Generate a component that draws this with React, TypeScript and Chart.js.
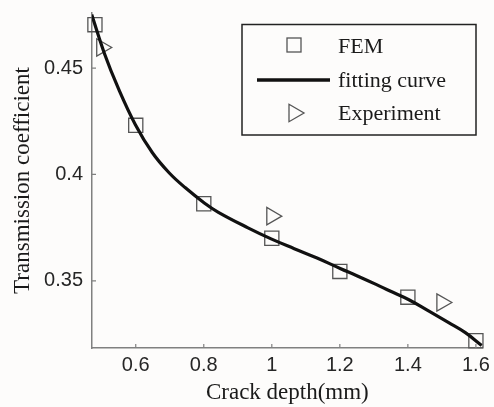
import React, { useEffect, useRef } from "react";
import { Chart, registerables } from "chart.js";

Chart.register(...registerables);

const femX = [0.48, 0.6, 0.8, 1.0, 1.2, 1.4, 1.6];
const femY = [0.4704, 0.4231, 0.3862, 0.37, 0.3544, 0.3423, 0.3218];

const expX = [0.5, 1.0, 1.5];
const expY = [0.4597, 0.3804, 0.3398];

const fitX = [0.4705, 0.509, 0.548, 0.599, 0.649, 0.698, 0.746, 0.8015, 0.843, 0.93, 0.998, 1.066, 1.133, 1.201, 1.25, 1.308, 1.346, 1.403, 1.462, 1.52, 1.569, 1.617];
const fitY = [0.4752, 0.4564, 0.4408, 0.4234, 0.4102, 0.4008, 0.3937, 0.3866, 0.3822, 0.3749, 0.3697, 0.3651, 0.3607, 0.3558, 0.3524, 0.3482, 0.3453, 0.3411, 0.3357, 0.3303, 0.3256, 0.3196];

const xTicks = [0.6, 0.8, 1.0, 1.2, 1.4, 1.6];
const xTickLabels = ["0.6", "0.8", "1", "1.2", "1.4", "1.6"];
const yTicks = [0.35, 0.4, 0.45];
const yTickLabels = ["0.35", "0.4", "0.45"];

const labels = ["FEM", "fitting curve", "Experiment"];
const xTitle = "Crack depth(mm)";
const yTitle = "Transmission coefficient";

const AXIS = "#808080";
const MARK = "#555555";
const TXT = "#262626";
const SERIF = "'Liberation Serif', 'Times New Roman', serif";
const SANS = "'Liberation Sans', Arial, sans-serif";

const bgPlugin = {
  id: "bg",
  beforeDraw(chart: any) {
    const { ctx, width, height } = chart;
    ctx.save();
    ctx.fillStyle = "#fdfcfb";
    ctx.fillRect(0, 0, width, height);
    ctx.restore();
  },
};

const tickPlugin = {
  id: "inTicks",
  afterDraw(chart: any) {
    const { ctx, chartArea } = chart;
    const xs = chart.scales.x;
    const ys = chart.scales.y;
    ctx.save();
    ctx.strokeStyle = AXIS;
    ctx.lineWidth = 1.2;
    ctx.beginPath();
    xTicks.forEach((v) => {
      const px = xs.getPixelForValue(v);
      ctx.moveTo(px, chartArea.bottom);
      ctx.lineTo(px, chartArea.bottom - 4);
    });
    yTicks.forEach((v) => {
      const py = ys.getPixelForValue(v);
      ctx.moveTo(chartArea.left, py);
      ctx.lineTo(chartArea.left + 4, py);
    });
    ctx.stroke();
    ctx.fillStyle = TXT;
    ctx.font = `20px ${SANS}`;
    ctx.textAlign = "center";
    ctx.textBaseline = "middle";
    xTicks.forEach((v, i) => {
      ctx.fillText(xTickLabels[i], xs.getPixelForValue(v), chartArea.bottom + 17);
    });
    ctx.restore();
  },
};

const legendPlugin = {
  id: "boxLegend",
  afterDraw(chart: any) {
    const { ctx } = chart;
    const x0 = 242, y0 = 24.5, w = 234, h = 110.5;
    ctx.save();
    ctx.fillStyle = "#fdfcfb";
    ctx.fillRect(x0, y0, w, h);
    ctx.strokeStyle = "#222";
    ctx.lineWidth = 1.5;
    ctx.strokeRect(x0, y0, w, h);
    const symX = 294;
    const textX = 338;
    const rows = [47, 81, 114];
    ctx.strokeStyle = MARK;
    ctx.lineWidth = 1.3;
    ctx.strokeRect(symX - 7, rows[0] - 2 - 7, 14, 14);
    ctx.strokeStyle = "#111";
    ctx.lineWidth = 3.5;
    ctx.beginPath();
    ctx.moveTo(257, rows[1] - 1);
    ctx.lineTo(330, rows[1] - 1);
    ctx.stroke();
    ctx.strokeStyle = MARK;
    ctx.lineWidth = 1.3;
    ctx.beginPath();
    const ty = rows[2] - 1;
    ctx.moveTo(symX - 5, ty - 8.7);
    ctx.lineTo(symX + 10, ty);
    ctx.lineTo(symX - 5, ty + 8.7);
    ctx.closePath();
    ctx.stroke();
    ctx.fillStyle = "#1a1a1a";
    ctx.font = `22px ${SERIF}`;
    ctx.textBaseline = "middle";
    ctx.textAlign = "left";
    labels.forEach((t, i) => ctx.fillText(t, textX, rows[i]));
    ctx.restore();
  },
};

export default function App() {
  const ref = useRef<HTMLCanvasElement>(null);
  useEffect(() => {
    document.body.style.margin = "0";
    const canvas = ref.current!;
    const chart = new Chart(canvas, {
      type: "scatter",
      data: {
        datasets: [
          {
            label: labels[1],
            data: fitX.map((x, i) => ({ x, y: fitY[i] })),
            showLine: true,
            borderColor: "#111",
            borderWidth: 3.2,
            pointRadius: 0,
            tension: 0.4,
            order: 0,
          } as any,
          {
            label: labels[0],
            data: femX.map((x, i) => ({ x, y: femY[i] })),
            pointStyle: "rect",
            pointRadius: 10,
            pointBorderColor: MARK,
            pointBackgroundColor: "rgba(0,0,0,0)",
            pointBorderWidth: 1.3,
            clip: false,
            order: 1,
          } as any,
          {
            label: labels[2],
            data: expX.map((x, i) => ({ x, y: expY[i] })),
            pointStyle: "triangle",
            rotation: 90,
            pointRadius: 10,
            pointBorderColor: MARK,
            pointBackgroundColor: "rgba(0,0,0,0)",
            pointBorderWidth: 1.3,
            clip: false,
            order: 2,
          } as any,
        ],
      },
      options: {
        responsive: false,
        animation: false,
        events: [],
        layout: { padding: { top: 13, right: 6, left: 0, bottom: 0 } },
        plugins: { legend: { display: false }, tooltip: { enabled: false } },
        scales: {
          x: {
            type: "linear",
            min: 0.4714,
            max: 1.62,
            grid: { display: false, drawTicks: false },
            border: { display: true, color: AXIS, width: 1.5 },
            afterBuildTicks: (s: any) => {
              s.ticks = xTicks.map((v) => ({ value: v }));
            },
            afterFit: (s: any) => {
              s.height = 59;
            },
            ticks: { display: false },
            title: {
              display: true,
              text: xTitle,
              color: "#1a1a1a",
              font: { family: SERIF, size: 23, lineHeight: 1.2 },
              padding: { top: 0, bottom: 0 },
            },
          },
          y: {
            type: "linear",
            min: 0.3184,
            max: 0.4759,
            grid: { display: false, drawTicks: false },
            border: { display: true, color: AXIS, width: 1.5 },
            afterBuildTicks: (s: any) => {
              s.ticks = yTicks.map((v) => ({ value: v }));
            },
            afterFit: (s: any) => {
              s.width = 92;
              s.paddingTop = 0;
              s.paddingBottom = 0;
            },
            ticks: {
              autoSkip: false,
              padding: 9,
              color: TXT,
              font: { family: SANS, size: 20 },
              callback: (v: any) => {
                const i = yTicks.findIndex((t) => Math.abs(t - v) < 1e-6);
                return i >= 0 ? yTickLabels[i] : "";
              },
            },
            title: {
              display: true,
              text: yTitle,
              color: "#1a1a1a",
              font: { family: SERIF, size: 23, lineHeight: 1.2 },
              padding: { top: 9, bottom: 0 },
            },
          },
        },
      },
      plugins: [bgPlugin, tickPlugin, legendPlugin],
    });
    return () => chart.destroy();
  }, []);
  return <canvas ref={ref} width={494} height={407} style={{ display: "block" }} />;
}
